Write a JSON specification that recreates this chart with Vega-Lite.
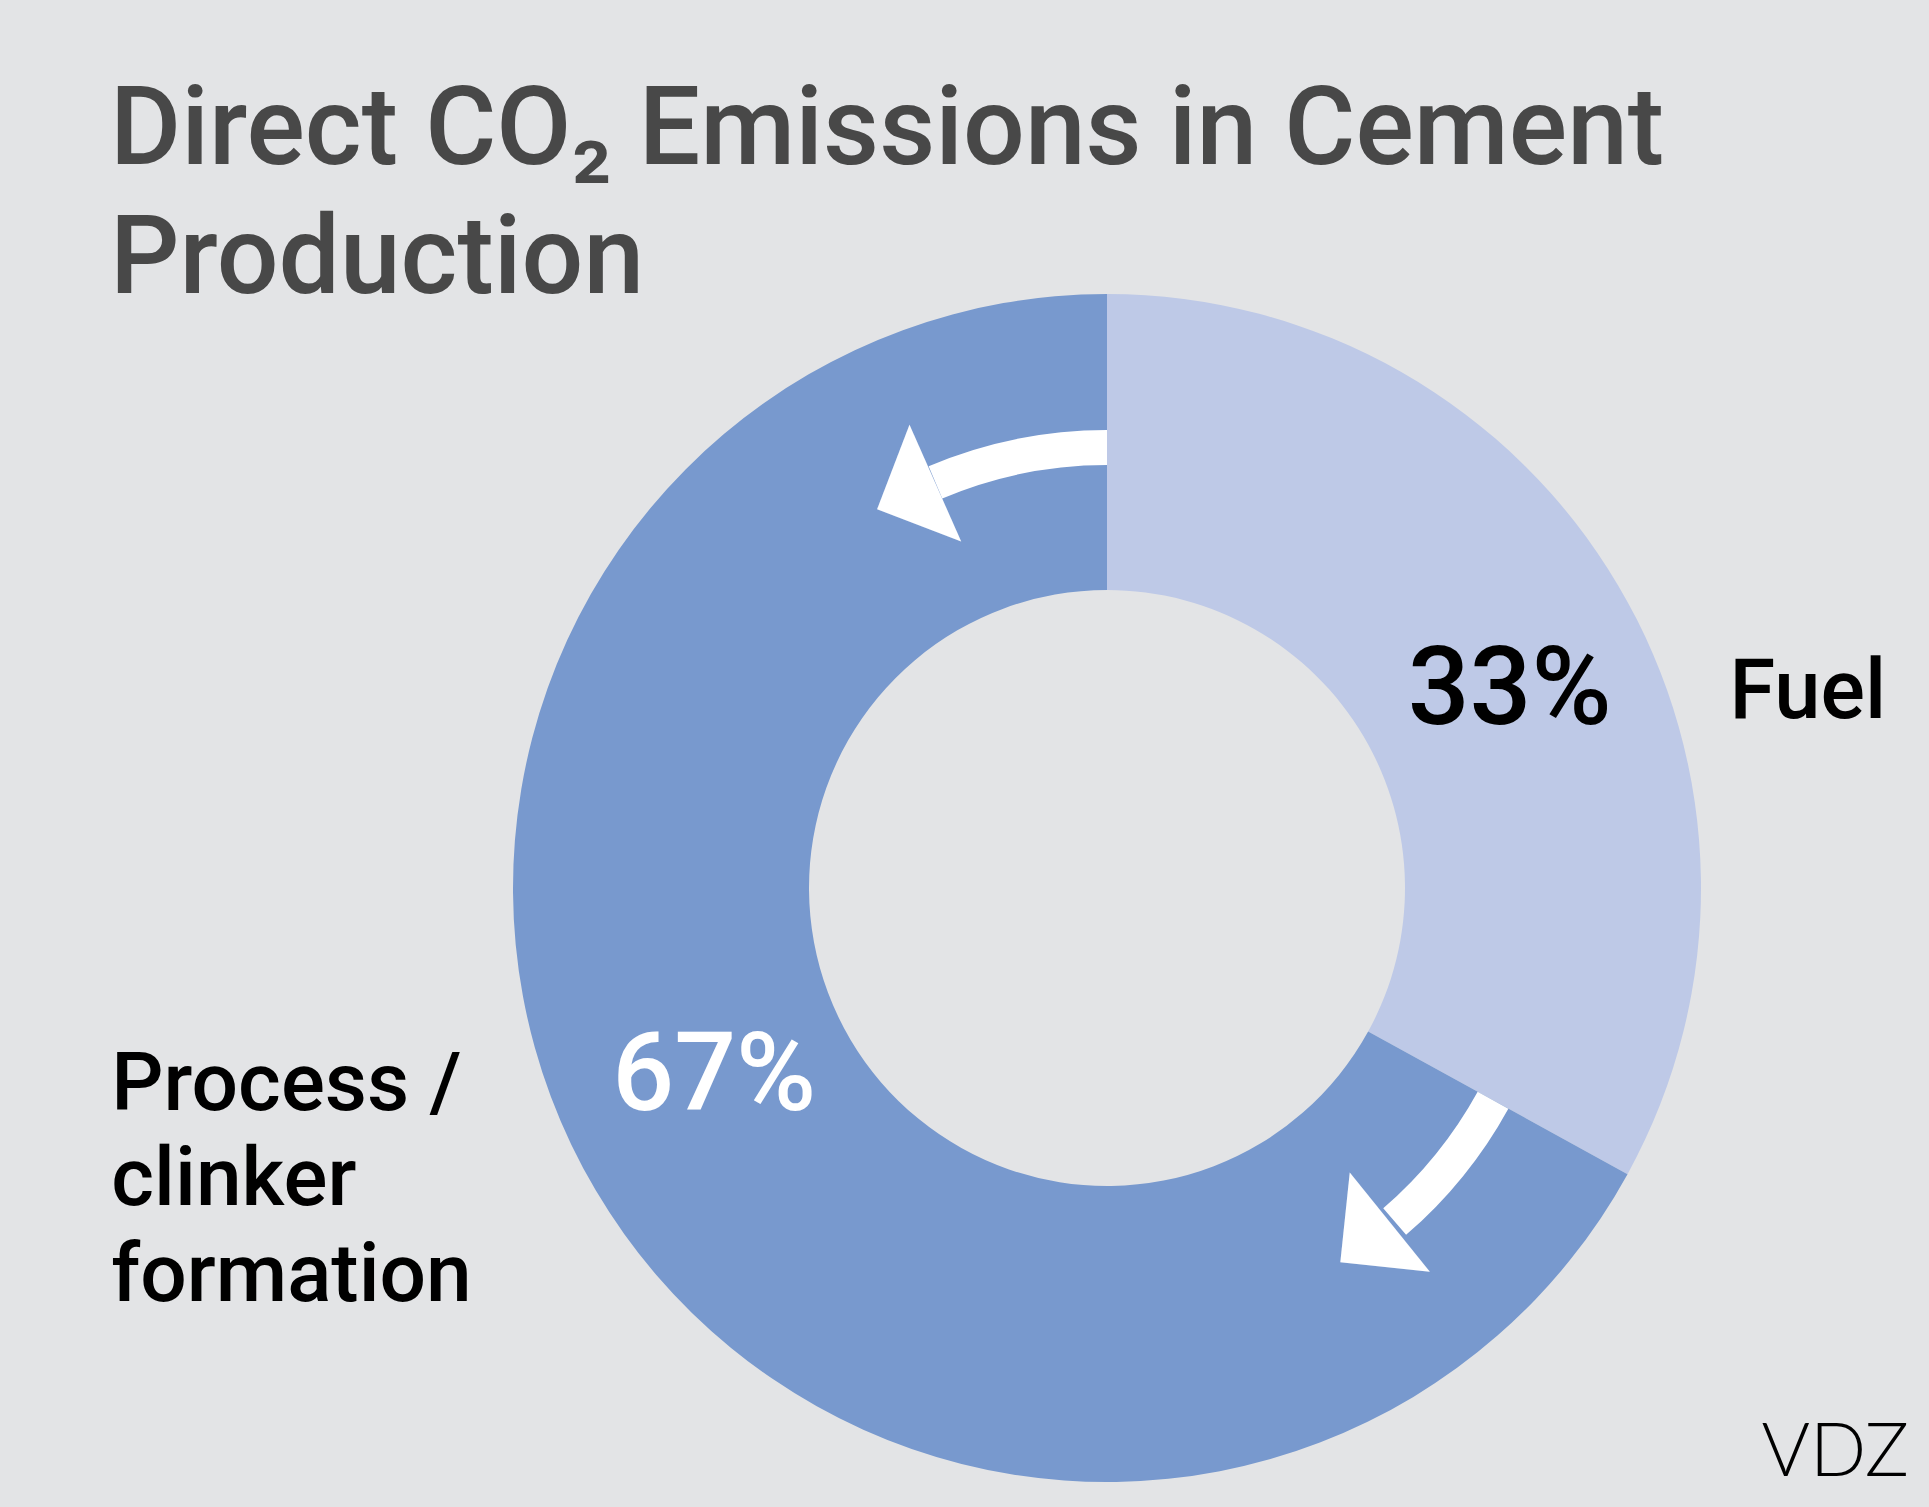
{
  "$schema": "https://vega.github.io/schema/vega-lite/v6.json",
  "width": 1644,
  "height": 1116,
  "autosize": {"type": "none"},
  "padding": {"left": 285, "top": 330, "right": 0, "bottom": 61},
  "background": "#E3E4E6",
  "config": {"view": {"stroke": null}},
  "title": {
    "text": ["Direct CO₂ Emissions in Cement", "Production"],
    "anchor": "start",
    "frame": "group",
    "orient": "top",
    "offset": -22,
    "dx": -175,
    "font": "Roboto",
    "fontSize": 109,
    "fontWeight": 500,
    "color": "#484848",
    "lineHeight": 129
  },
  "data": {
    "values": [
      {"category": "Fuel", "share": 33, "pct": "33%", "label": ["Fuel"]},
      {"category": "Process / clinker formation", "share": 67, "pct": "67%", "label": ["Process /", "clinker", "formation"]}
    ]
  },
  "layer": [
    {
      "mark": {"type": "arc", "outerRadius": 594, "innerRadius": 298},
      "encoding": {
        "theta": {"field": "share", "type": "quantitative", "stack": true},
        "color": {
          "field": "category",
          "type": "nominal",
          "scale": {"domain": ["Fuel", "Process / clinker formation"], "range": ["#BEC9E7", "#7899CE"]},
          "legend": null
        }
      }
    },
    {
      "transform": [{"filter": "datum.category == 'Fuel'"}],
      "mark": {"type": "arc", "theta": -0.40, "theta2": 0, "outerRadius": 458, "innerRadius": 423, "fill": "white"},
      "encoding": {}
    },
    {
      "transform": [{"filter": "datum.category == 'Fuel'"}],
      "mark": {"type": "arc", "theta": 2.0735, "theta2": 2.43, "outerRadius": 458, "innerRadius": 423, "fill": "white"},
      "encoding": {}
    },
    {
      "transform": [{"filter": "datum.category == 'Fuel'"}],
      "mark": {"type": "text", "text": "◣", "theta": -0.4004, "radius": 440, "angle": 21, "dy": -4, "font": "DejaVu Sans", "fontSize": 118, "color": "white", "align": "center", "baseline": "middle"},
      "encoding": {}
    },
    {
      "transform": [{"filter": "datum.category == 'Fuel'"}],
      "mark": {"type": "text", "text": "◣", "theta": 2.4377, "radius": 437, "angle": 6, "dy": -3.5, "font": "DejaVu Sans", "fontSize": 118, "color": "white", "align": "center", "baseline": "middle"},
      "encoding": {}
    },
    {
      "mark": {"type": "text", "radius": 440, "dx": 24, "dy": 60, "font": "Roboto", "fontSize": 109, "fontWeight": 500, "color": "black", "align": "center", "baseline": "alphabetic"},
      "encoding": {
        "theta": {"field": "share", "type": "quantitative", "stack": true},
        "text": {"condition": {"test": "datum.category == 'Fuel'", "field": "pct"}, "value": ""}
      }
    },
    {
      "mark": {"type": "text", "radius": 440, "dx": -14, "dy": -2, "font": "Roboto", "fontSize": 109, "fontWeight": 500, "color": "white", "align": "center", "baseline": "alphabetic"},
      "encoding": {
        "theta": {"field": "share", "type": "quantitative", "stack": true},
        "text": {"condition": {"test": "datum.category != 'Fuel'", "field": "pct"}, "value": ""}
      }
    },
    {
      "mark": {"type": "text", "radius": 700, "dx": 20, "dy": 186, "font": "Roboto", "fontSize": 83, "fontWeight": 500, "color": "black", "align": "left", "baseline": "alphabetic"},
      "encoding": {
        "theta": {"field": "share", "type": "quantitative", "stack": true},
        "text": {"condition": {"test": "datum.category == 'Fuel'", "field": "label"}, "value": ""}
      }
    },
    {
      "mark": {"type": "text", "radius": 440, "dx": -617, "dy": -2, "font": "Roboto", "fontSize": 82, "fontWeight": 500, "color": "black", "align": "left", "baseline": "alphabetic", "lineHeight": 95.5},
      "encoding": {
        "theta": {"field": "share", "type": "quantitative", "stack": true},
        "text": {"condition": {"test": "datum.category != 'Fuel'", "field": "label"}, "value": ""}
      }
    },
    {
      "transform": [{"filter": "datum.category == 'Fuel'"}],
      "mark": {"type": "text", "text": "VDZ", "dx": -20, "dy": 30, "font": "Lato", "fontWeight": 300, "fontSize": 74, "color": "black", "align": "right", "baseline": "alphabetic"},
      "encoding": {"x": {"value": "width"}, "y": {"value": "height"}}
    }
  ]
}
